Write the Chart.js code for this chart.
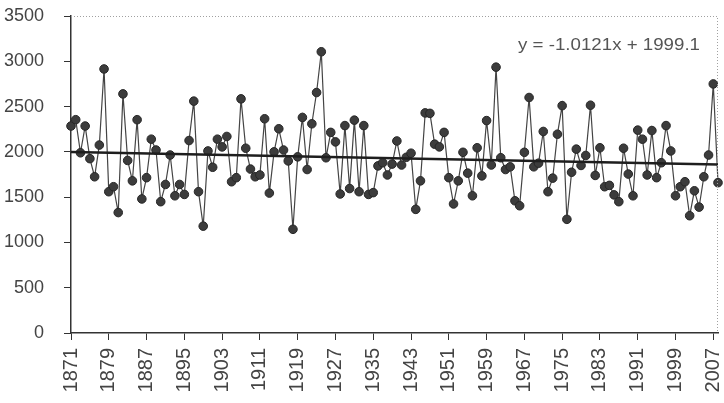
<!DOCTYPE html>
<html>
<head>
<meta charset="utf-8">
<title>Annual series 1871-2008</title>
<script src="https://cdn.jsdelivr.net/npm/chart.js@4.4.0/dist/chart.umd.min.js"></script>
<style>
    body { margin: 0; background: #fff; }
    #myChart { display: block; }
</style>
</head>
<body>
<canvas id="myChart" width="724" height="403"></canvas>
<script>
// years 1871..2008
var firstYear = 1871;
var lastYear = 2008;

var valores = [
    2285, 2355, 1990, 2285, 1925, 1725, 2075, 2915, 1560, 1615,
    1330, 2640, 1905, 1680, 2355, 1480, 1715, 2140, 2020, 1450,
    1640, 1965, 1515, 1640, 1530, 2125, 2560, 1560, 1180, 2010,
    1830, 2140, 2055, 2170, 1670, 1715, 2585, 2040, 1810, 1725,
    1745, 2365, 1545, 2000, 2255, 2020, 1900, 1145, 1945, 2380,
    1805, 2310, 2655, 3105, 1935, 2215, 2110, 1535, 2290, 1595,
    2350, 1560, 2290, 1530, 1550, 1845, 1880, 1745, 1865, 2120,
    1855, 1940, 1985, 1365, 1680, 2430, 2425, 2085, 2055, 2215,
    1715, 1425, 1680, 1995, 1765, 1515, 2045, 1735, 2345, 1855,
    2935, 1935, 1805, 1835, 1460, 1405, 1995, 2600, 1835, 1875,
    2225, 1560, 1710, 2195, 2510, 1255, 1775, 2030, 1850, 1960,
    2515, 1740, 2045, 1615, 1630, 1525, 1450, 2040, 1755, 1515,
    2240, 2140, 1745, 2235, 1715, 1880, 2290, 2010, 1515, 1615,
    1670, 1295, 1570, 1390, 1725, 1965, 2750, 1660
];

// linear trend as printed on the chart (x = 1, 2, ...)
var pendiente = -1.0121;
var ordenada = 1999.1;
var ecuacion = "y = -1.0121x + 1999.1";

var yTicks = [0, 500, 1000, 1500, 2000, 2500, 3000, 3500];
var labelStep = 8;

var anios = [];
for (var a = firstYear; a <= lastYear; a++) {
    anios.push(String(a));
}

// trend only needs its two end points, spanGaps joins them
var tendencia = anios.map(function () { return null; });
tendencia[0] = pendiente * 1 + ordenada;
tendencia[anios.length - 1] = pendiente * anios.length + ordenada;

// dotted frame on top/right and the equation text
var extras = {
    id: "extras",
    afterDraw: function (chart) {
        var ctx = chart.ctx;
        var area = chart.chartArea;
        ctx.save();
        ctx.strokeStyle = "#a0a0a0";
        ctx.lineWidth = 1;
        ctx.setLineDash([1, 2]);
        ctx.beginPath();
        ctx.moveTo(area.left, area.top + 0.5);
        ctx.lineTo(area.right - 0.5, area.top + 0.5);
        ctx.lineTo(area.right - 0.5, area.bottom);
        ctx.stroke();
        ctx.setLineDash([]);
        // equation text is a bit wider than the plain font
        ctx.translate(area.right - 18, area.top + 29);
        ctx.scale(1.1, 1);
        ctx.fillStyle = "#555";
        ctx.font = "17px 'Liberation Sans', Arial, sans-serif";
        ctx.textAlign = "right";
        ctx.textBaseline = "middle";
        ctx.fillText(ecuacion, 0, 0);
        ctx.restore();
    }
};

var ctx = document.getElementById("myChart").getContext("2d");
var lienzo = new Chart(ctx, {
    type: "line",
    data: {
        labels: anios,
        datasets: [
            {
                label: "tendencia",
                data: tendencia,
                borderColor: "#1e1e1e",
                borderWidth: 2.5,
                pointRadius: 0,
                spanGaps: true,
                order: 0,
            },
            {
                label: "serie",
                data: valores,
                borderColor: "#444",
                borderWidth: 1.2,
                backgroundColor: "#3a3a3a",
                pointBackgroundColor: "#3c3c3c",
                pointBorderColor: "#262626",
                pointBorderWidth: 1,
                pointRadius: 4.3,
                tension: 0,
                order: 1,
            },
        ],
    },
    options: {
        responsive: false,
        animation: false,
        layout: {
            padding: { top: 16, right: 6, left: 0, bottom: 0 },
        },
        plugins: {
            legend: { display: false },
            tooltip: { enabled: false },
        },
        scales: {
            x: {
                type: "category",
                offset: false,
                grid: {
                    display: true,
                    drawOnChartArea: false,
                    drawTicks: true,
                    tickLength: 7,
                    color: "#333",
                },
                border: { display: true, color: "#333", width: 1.5 },
                ticks: {
                    autoSkip: false,
                    minRotation: 90,
                    maxRotation: 90,
                    padding: 8,
                    color: "#444",
                    font: { family: "'Liberation Sans', Arial, sans-serif", size: 20 },
                    callback: function (value, index) {
                        return index % labelStep === 0 ? this.getLabelForValue(value) : null;
                    },
                },
                afterFit: function (scale) {
                    scale.height = 70;
                    scale.paddingLeft = 0;
                    scale.paddingRight = 0;
                },
            },
            y: {
                min: 0,
                max: 3500,
                afterBuildTicks: function (scale) {
                    scale.ticks = yTicks.map(function (v) { return { value: v }; });
                },
                grid: {
                    display: true,
                    drawOnChartArea: false,
                    drawTicks: true,
                    tickLength: 7,
                    color: "#333",
                },
                border: { display: true, color: "#333", width: 1.5 },
                ticks: {
                    padding: 20,
                    color: "#444",
                    font: { family: "'Liberation Sans', Arial, sans-serif", size: 18 },
                    callback: function (value) {
                        return String(value);
                    },
                },
                afterFit: function (scale) {
                    scale.width = 71;
                    scale.paddingTop = 0;
                    scale.paddingBottom = 0;
                },
            },
        },
    },
    plugins: [extras],
});
</script>
</body>
</html>
